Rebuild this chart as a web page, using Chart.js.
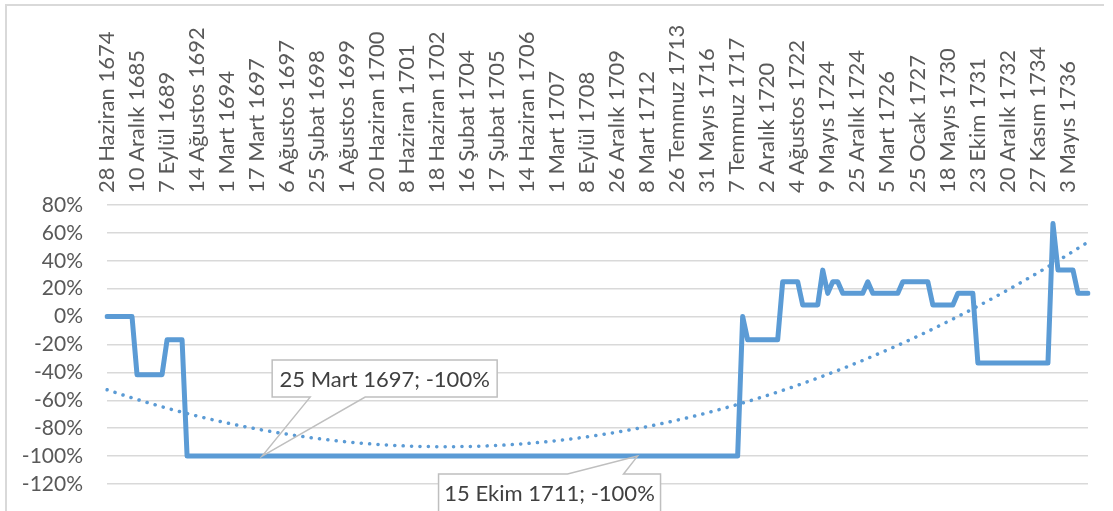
<!DOCTYPE html>
<html>
<head>
<meta charset="utf-8">
<script src="https://cdn.jsdelivr.net/npm/chart.js@4.4.1/dist/chart.umd.min.js"></script>
<style>
  html, body { margin: 0; padding: 0; background: #fff; }
  #wrap { position: relative; width: 1113px; height: 511px; overflow: hidden; }
  #frame { position: absolute; left: 5px; top: 4px; width: 1099px; height: 600px; border: 2px solid #d9d9d9; border-right: none; box-sizing: border-box; }
  #chart { position: absolute; left: 0; top: 0; }
</style>
</head>
<body>
<div id="wrap">
  <div id="frame"></div>
  <canvas id="chart" width="1113" height="511"></canvas>
</div>
<script>
// visible category labels (Excel shows every 6th date)
const tickLabels = [
  '28 Haziran 1674', '10 Aralık 1685', '7 Eylül 1689', '14 Ağustos 1692', '1 Mart 1694',
  '17 Mart 1697', '6 Ağustos 1697', '25 Şubat 1698', '1 Ağustos 1699', '20 Haziran 1700',
  '8 Haziran 1701', '18 Haziran 1702', '16 Şubat 1704', '17 Şubat 1705', '14 Haziran 1706',
  '1 Mart 1707', '8 Eylül 1708', '26 Aralık 1709', '8 Mart 1712', '26 Temmuz 1713',
  '31 Mayıs 1716', '7 Temmuz 1717', '2 Aralık 1720', '4 Ağustos 1722', '9 Mayıs 1724',
  '25 Aralık 1724', '5 Mart 1726', '25 Ocak 1727', '18 Mayıs 1730', '23 Ekim 1731',
  '20 Aralık 1732', '27 Kasım 1734', '3 Mayıs 1736'
];
const labelEvery = 6;

// labelled points
const calloutIndex = [31, 106];
const calloutDate = ['25 Mart 1697', '15 Ekim 1711'];

// change in % for every date (197 points)
const values = [
  0, 0, 0, 0, 0, 0,
  -41.67, -41.67, -41.67, -41.67, -41.67, -41.67,
  -16.67, -16.67, -16.67, -16.67,
  -100, -100, -100, -100, -100, -100, -100, -100, -100, -100,
  -100, -100, -100, -100, -100, -100, -100, -100, -100, -100,
  -100, -100, -100, -100, -100, -100, -100, -100, -100, -100,
  -100, -100, -100, -100, -100, -100, -100, -100, -100, -100,
  -100, -100, -100, -100, -100, -100, -100, -100, -100, -100,
  -100, -100, -100, -100, -100, -100, -100, -100, -100, -100,
  -100, -100, -100, -100, -100, -100, -100, -100, -100, -100,
  -100, -100, -100, -100, -100, -100, -100, -100, -100, -100,
  -100, -100, -100, -100, -100, -100, -100, -100, -100, -100,
  -100, -100, -100, -100, -100, -100, -100, -100, -100, -100,
  -100, -100, -100, -100, -100, -100, -100, -100, -100, -100,
  -100,
  0,
  -16.67, -16.67, -16.67, -16.67, -16.67, -16.67, -16.67,
  25, 25, 25, 25,
  8.33, 8.33, 8.33, 8.33,
  33.33, 16.67, 25, 25,
  16.67, 16.67, 16.67, 16.67, 16.67,
  25,
  16.67, 16.67, 16.67, 16.67, 16.67, 16.67,
  25, 25, 25, 25, 25, 25,
  8.33, 8.33, 8.33, 8.33, 8.33,
  16.67, 16.67, 16.67, 16.67,
  -33.33, -33.33, -33.33, -33.33, -33.33, -33.33, -33.33, -33.33,
  -33.33, -33.33, -33.33, -33.33, -33.33, -33.33, -33.33,
  66.67,
  33.33, 33.33, 33.33, 33.33,
  16.67, 16.67, 16.67
];

const yTicks = { min: -120, max: 80, step: 20 };

// category list: known dates where they are readable, blank elsewhere
const labels = values.map((v, i) => {
  const c = calloutIndex.indexOf(i);
  if (c >= 0) return calloutDate[c];
  return i % labelEvery === 0 ? tickLabels[i / labelEvery] : '';
});

// 2nd order polynomial trendline (least squares, like Excel)
function polyTrend(ys) {
  let s = [0, 0, 0, 0, 0], t = [0, 0, 0];
  ys.forEach((y, i) => {
    const x = i + 1;
    for (let k = 0; k < 5; k++) s[k] += Math.pow(x, k);
    for (let k = 0; k < 3; k++) t[k] += y * Math.pow(x, k);
  });
  const m = [[s[0], s[1], s[2], t[0]], [s[1], s[2], s[3], t[1]], [s[2], s[3], s[4], t[2]]];
  for (let c = 0; c < 3; c++) {
    for (let r = c + 1; r < 3; r++) {
      const f = m[r][c] / m[c][c];
      for (let k = c; k < 4; k++) m[r][k] -= f * m[c][k];
    }
  }
  const b = [0, 0, 0];
  for (let r = 2; r >= 0; r--) {
    let acc = m[r][3];
    for (let k = r + 1; k < 3; k++) acc -= m[r][k] * b[k];
    b[r] = acc / m[r][r];
  }
  return ys.map((y, i) => b[0] + b[1] * (i + 1) + b[2] * (i + 1) * (i + 1));
}

const BLUE = '#5b9bd5';
const TEXT = '#595959';
const FONT = 'Lato, "Liberation Sans", sans-serif';

const callouts = {
  id: 'callouts',
  afterDatasetsDraw(chart) {
    const ctx = chart.ctx;
    const xs = chart.scales.x;
    const ys = chart.scales.y;
    // box geometry relative to the point: left, top, width, height, wedge base x's
    const boxes = [
      { dx: 10, dy: -96, w: 225, h: 37, b1: 48, b2: 103, below: false },
      { dx: -199, dy: 18, w: 222, h: 38, b1: -70, b2: -14, below: true }
    ];
    calloutIndex.forEach((idx, k) => {
      const px = xs.getPixelForValue(idx);
      const py = ys.getPixelForValue(values[idx]);
      const b = boxes[k];
      const L = px + b.dx, T = py + b.dy, R = L + b.w, B = T + b.h;
      ctx.save();
      ctx.fillStyle = '#fff';
      ctx.fillRect(L, T, b.w, b.h);
      ctx.strokeStyle = '#bfbfbf';
      ctx.lineWidth = 1.5;
      ctx.beginPath();
      if (!b.below) {
        ctx.moveTo(L, T); ctx.lineTo(R, T); ctx.lineTo(R, B);
        ctx.lineTo(px + b.b2, B); ctx.lineTo(px, py); ctx.lineTo(px + b.b1, B);
        ctx.lineTo(L, B); ctx.closePath();
      } else {
        ctx.moveTo(L, B); ctx.lineTo(L, T); ctx.lineTo(px + b.b1, T);
        ctx.lineTo(px, py); ctx.lineTo(px + b.b2, T); ctx.lineTo(R, T);
        ctx.lineTo(R, B); ctx.closePath();
      }
      ctx.stroke();
      ctx.fillStyle = '#404040';
      ctx.font = '22px ' + FONT;
      ctx.textAlign = 'center';
      ctx.textBaseline = 'middle';
      ctx.fillText(labels[idx] + '; ' + values[idx] + '%', (L + R) / 2, (T + B) / 2 + 1);
      ctx.restore();
    });
  }
};

new Chart(document.getElementById('chart'), {
  type: 'line',
  data: {
    labels,
    datasets: [
      {
        label: 'Değişim',
        data: values,
        borderColor: BLUE,
        borderWidth: 5,
        borderJoinStyle: 'round',
        borderCapStyle: 'round',
        pointRadius: 0,
        tension: 0,
        order: 1
      },
      {
        label: 'Polinom (Değişim)',
        data: polyTrend(values),
        borderColor: BLUE,
        borderWidth: 3.5,
        borderDash: [0.1, 8.3],
        borderCapStyle: 'round',
        pointRadius: 0,
        tension: 0,
        order: 2
      }
    ]
  },
  options: {
    responsive: false,
    animation: false,
    layout: { padding: { left: 0, top: 0, right: 25, bottom: 27 } },
    plugins: { legend: { display: false }, tooltip: { enabled: false } },
    scales: {
      x: {
        position: 'top',
        offset: false,
        grid: { display: false },
        border: { display: false },
        afterFit: (scale) => { scale.height = 205; },
        ticks: {
          autoSkip: false,
          minRotation: 90,
          maxRotation: 90,
          padding: 4,
          labelOffset: 26,
          color: TEXT,
          font: { family: FONT, size: 22 },
          callback: (v, i) => (i % labelEvery === 0 ? tickLabels[i / labelEvery] : null)
        }
      },
      y: {
        min: yTicks.min,
        max: yTicks.max,
        afterFit: (scale) => {
          scale.width = 107;
          scale.paddingTop = 0;
          scale.paddingBottom = 0;
        },
        grid: { color: '#d9d9d9', lineWidth: 1.5, drawTicks: false },
        border: { display: false },
        ticks: {
          autoSkip: false,
          stepSize: yTicks.step,
          padding: 24,
          color: TEXT,
          font: { family: FONT, size: 21 },
          callback: (v) => v + '%'
        }
      }
    }
  },
  plugins: [callouts]
});
</script>
</body>
</html>
